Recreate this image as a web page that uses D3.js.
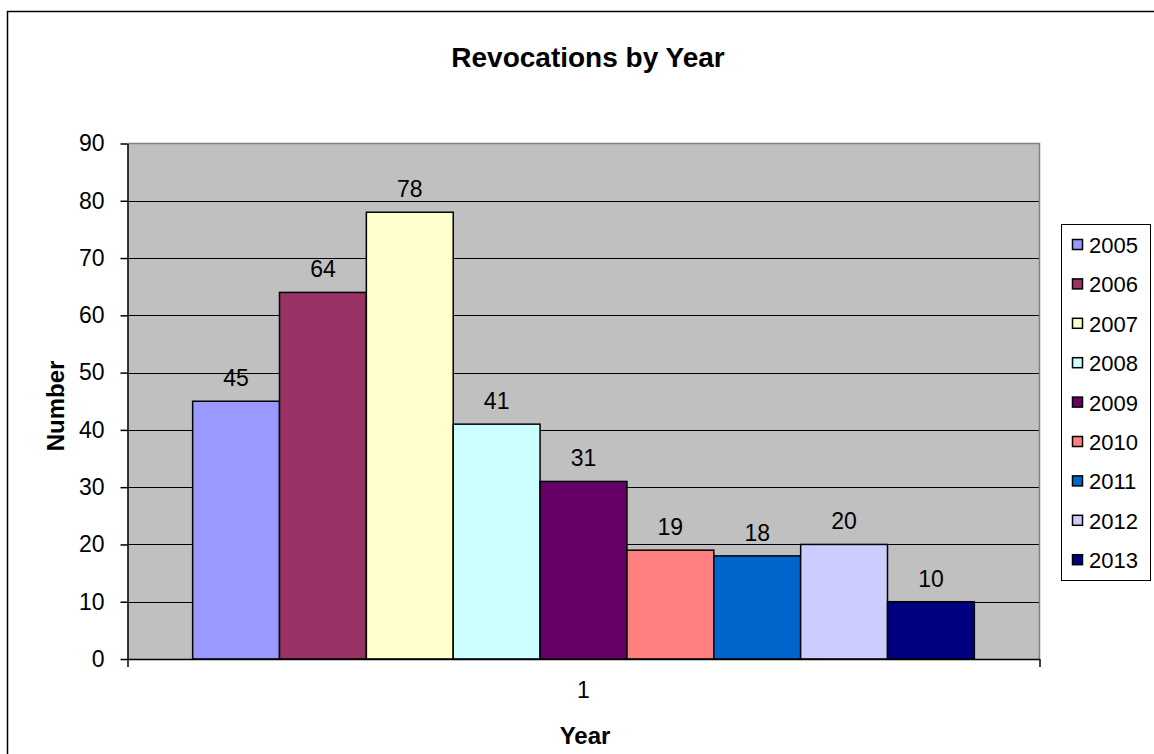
<!DOCTYPE html>
<html>
<head>
<meta charset="utf-8">
<script src="https://cdn.jsdelivr.net/npm/d3@7"></script>
<style>
  html, body { margin: 0; padding: 0; background: #fff; }
  svg { display: block; font-family: "Liberation Sans", Arial, sans-serif; }
</style>
</head>
<body>
<svg id="chart" width="1154" height="754"></svg>
<script>
// Revocations per year, shown as one cluster of nine series
const years = ["2005", "2006", "2007", "2008", "2009", "2010", "2011", "2012", "2013"];
const revocations = [45, 64, 78, 41, 31, 19, 18, 20, 10];
const colors = ["#9999FF", "#993366", "#FFFFCC", "#CCFFFF", "#660066", "#FF8080", "#0066CC", "#CCCCFF", "#000080"];
const yTicks = [0, 10, 20, 30, 40, 50, 60, 70, 80, 90];
const categoryLabel = "1";

const svg = d3.select("#chart");

const plot = { left: 127.5, right: 1039.5, top: 143.5, bottom: 659 };

const y = d3.scaleLinear().domain([0, 90]).range([plot.bottom, plot.top]);
const x = d3.scaleBand().domain(years).range([plot.left, plot.right])
  .paddingInner(0).paddingOuter(0.75);

// Outer chart frame
svg.append("rect")
  .attr("x", 7.5).attr("y", 11.5).attr("width", 1170).attr("height", 780)
  .attr("fill", "#fff").attr("stroke", "#000").attr("stroke-width", 1.5);

// Title
svg.append("text")
  .attr("x", 588).attr("y", 67)
  .attr("text-anchor", "middle")
  .attr("font-size", 28).attr("font-weight", "bold")
  .text("Revocations by Year");

// Plot background
svg.append("rect")
  .attr("x", plot.left).attr("y", plot.top)
  .attr("width", plot.right - plot.left).attr("height", plot.bottom - plot.top)
  .attr("fill", "#C0C0C0");

// Gridlines
svg.append("g")
  .selectAll("line")
  .data(yTicks.filter(d => d > 0 && d < 90))
  .join("line")
  .attr("x1", plot.left).attr("x2", plot.right)
  .attr("y1", d => Math.round(y(d)) + 0.5).attr("y2", d => Math.round(y(d)) + 0.5)
  .attr("stroke", "#000").attr("stroke-width", 1);

// Plot frame top and right (gray)
svg.append("path")
  .attr("d", `M${plot.left},${plot.top}H${plot.right}V${plot.bottom}`)
  .attr("fill", "none").attr("stroke", "#808080").attr("stroke-width", 1.5);

// Bars
svg.append("g")
  .selectAll("rect")
  .data(years)
  .join("rect")
  .attr("x", d => x(d))
  .attr("y", (d, i) => y(revocations[i]))
  .attr("width", x.bandwidth())
  .attr("height", (d, i) => y(0) - y(revocations[i]))
  .attr("fill", (d, i) => colors[i])
  .attr("stroke", "#000").attr("stroke-width", 1.5);

// Value labels
svg.append("g")
  .selectAll("text")
  .data(years)
  .join("text")
  .attr("x", d => x(d) + x.bandwidth() / 2)
  .attr("y", (d, i) => y(revocations[i]) - 15)
  .attr("text-anchor", "middle")
  .attr("font-size", 23)
  .text((d, i) => revocations[i]);

// Y axis
const yAxis = d3.axisLeft(y).tickValues(yTicks).tickSize(7).tickPadding(16).tickSizeOuter(0);
const gy = svg.append("g").attr("transform", `translate(${plot.left},0)`).call(yAxis);
gy.select(".domain").attr("stroke", "#000").attr("stroke-width", 1.5);
gy.selectAll(".tick line").attr("stroke", "#000").attr("stroke-width", 1.5);
gy.selectAll(".tick text").attr("font-size", 23).attr("fill", "#000")
  .attr("font-family", "Liberation Sans, Arial, sans-serif");

// X axis line with end ticks
const xAxisScale = d3.scaleLinear().domain([0, 1]).range([plot.left, plot.right]);
const xAxis = d3.axisBottom(xAxisScale).tickValues([0, 1]).tickFormat("").tickSize(8).tickSizeOuter(0);
const gx = svg.append("g").attr("transform", `translate(0,${plot.bottom})`).call(xAxis);
gx.select(".domain").attr("stroke", "#000").attr("stroke-width", 1.5);
gx.selectAll(".tick line").attr("stroke", "#000").attr("stroke-width", 1.5);

// Category label
svg.append("text")
  .attr("x", (plot.left + plot.right) / 2).attr("y", 698)
  .attr("text-anchor", "middle").attr("font-size", 23)
  .text(categoryLabel);

// Axis titles
svg.append("text")
  .attr("x", 585).attr("y", 744)
  .attr("text-anchor", "middle").attr("font-size", 24).attr("font-weight", "bold")
  .text("Year");

svg.append("text")
  .attr("transform", "translate(64,406) rotate(-90)")
  .attr("text-anchor", "middle").attr("font-size", 24).attr("font-weight", "bold")
  .text("Number");

// Legend
const legend = svg.append("g");
legend.append("rect")
  .attr("x", 1061.5).attr("y", 224.5).attr("width", 89).attr("height", 356)
  .attr("fill", "#fff").attr("stroke", "#000").attr("stroke-width", 1);

const items = legend.selectAll("g.item")
  .data(years)
  .join("g")
  .attr("class", "item")
  .attr("transform", (d, i) => `translate(0,${245 + i * 39.4})`);

items.append("rect")
  .attr("x", 1072.5).attr("y", -5.5).attr("width", 10).attr("height", 10)
  .attr("fill", (d, i) => colors[i])
  .attr("stroke", "#000").attr("stroke-width", 1.5);

items.append("text")
  .attr("x", 1089).attr("y", 8)
  .attr("font-size", 22)
  .text(d => d);
</script>
</body>
</html>
